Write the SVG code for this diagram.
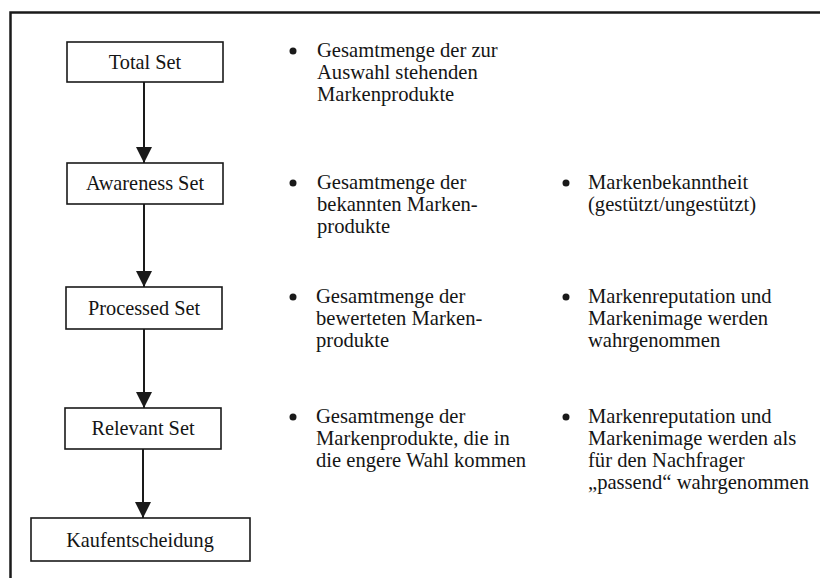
<svg xmlns="http://www.w3.org/2000/svg" width="820" height="578" viewBox="0 0 820 578">
<style>
text{font-family:"Liberation Serif","Times New Roman",serif;font-size:20.6px;fill:#151515}
.box{fill:#fff;stroke:#1a1a1a;stroke-width:1.6}
.lbl{text-anchor:middle;font-size:20.3px}
.edge{stroke:#1a1a1a;stroke-width:2;fill:none}
.dot{fill:#1a1a1a}
</style>
<defs>
<marker id="ah" viewBox="0 0 16 16" refX="16" refY="8" markerWidth="16" markerHeight="16" markerUnits="userSpaceOnUse" orient="auto">
<path d="M0,0 L16,8 L0,16 Z" fill="#1a1a1a"/>
</marker>
</defs>
<rect width="820" height="578" fill="#fff"/>
<path d="M10.5,578 V12.5 H820" fill="none" stroke="#1a1a1a" stroke-width="2.5"/>
<g id="connectors">
<line class="edge" x1="144" y1="82" x2="144" y2="163" marker-end="url(#ah)"/>
<line class="edge" x1="144" y1="204" x2="144" y2="287" marker-end="url(#ah)"/>
<line class="edge" x1="144" y1="329" x2="144" y2="408" marker-end="url(#ah)"/>
<line class="edge" x1="143" y1="449" x2="143" y2="518" marker-end="url(#ah)"/>
</g>
<g id="total">
<rect class="box" x="67" y="42" width="156" height="40"/>
<text class="lbl" x="145" y="69">Total Set</text>
<circle class="dot" cx="293" cy="51" r="3.5"/>
<text x="317" y="57">Gesamtmenge der zur</text>
<text x="317" y="79">Auswahl stehenden</text>
<text x="317" y="101">Markenprodukte</text>
</g>
<g id="awareness">
<rect class="box" x="67" y="163" width="156" height="41"/>
<text class="lbl" x="145" y="190">Awareness Set</text>
<circle class="dot" cx="293" cy="183" r="3.5"/>
<text x="317" y="189">Gesamtmenge der</text>
<text x="317" y="211">bekannten Marken-</text>
<text x="317" y="233">produkte</text>
<circle class="dot" cx="566" cy="183" r="3.5"/>
<text x="588" y="189">Markenbekanntheit</text>
<text x="588" y="211">(gestützt/ungestützt)</text>
</g>
<g id="processed">
<rect class="box" x="66" y="287" width="156" height="42"/>
<text class="lbl" x="144" y="315">Processed Set</text>
<circle class="dot" cx="293" cy="297" r="3.5"/>
<text x="316" y="303">Gesamtmenge der</text>
<text x="316" y="325">bewerteten Marken-</text>
<text x="316" y="347">produkte</text>
<circle class="dot" cx="566" cy="297" r="3.5"/>
<text x="588" y="303">Markenreputation und</text>
<text x="588" y="325">Markenimage werden</text>
<text x="588" y="347">wahrgenommen</text>
</g>
<g id="relevant">
<rect class="box" x="65" y="408" width="156" height="41"/>
<text class="lbl" x="143" y="435">Relevant Set</text>
<circle class="dot" cx="293" cy="417" r="3.5"/>
<text x="316" y="423">Gesamtmenge der</text>
<text x="316" y="445">Markenprodukte, die in</text>
<text x="316" y="467">die engere Wahl kommen</text>
<circle class="dot" cx="566" cy="417" r="3.5"/>
<text x="588" y="423">Markenreputation und</text>
<text x="588" y="445">Markenimage werden als</text>
<text x="588" y="467">für den Nachfrager</text>
<text x="588" y="489">„passend“ wahrgenommen</text>
</g>
<g id="kauf">
<rect class="box" x="31" y="518" width="219" height="43"/>
<text class="lbl" x="140" y="547">Kaufentscheidung</text>
</g>
</svg>
